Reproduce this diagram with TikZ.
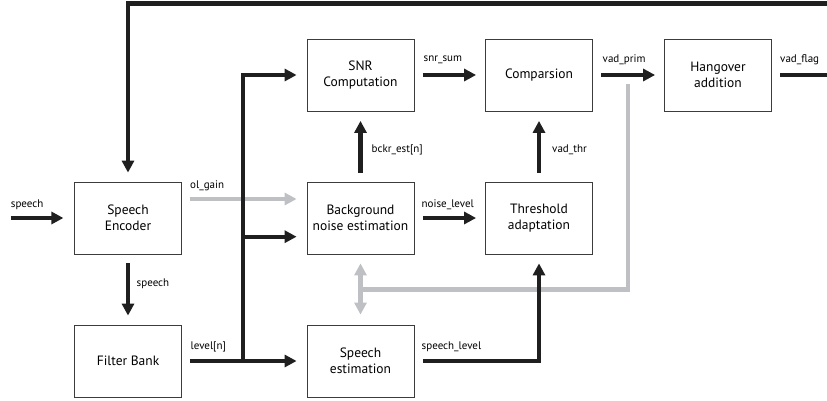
\documentclass[tikz,border=0pt]{standalone}
\usepackage{fontspec}
\setmainfont{PT Sans}
\usetikzlibrary{arrows.meta}
\definecolor{flowgrey}{RGB}{190,192,196}
\definecolor{boxline}{RGB}{60,60,60}
\tikzset{
  block/.style={draw=boxline, line width=0.8pt, minimum width=107pt, minimum height=72pt,
    align=center, inner sep=0pt, font=\fontsize{13.5}{16}\selectfont},
  sig/.style={line width=4.2pt, black!88, -{Triangle[length=12pt,width=12pt]}},
  bus/.style={line width=4.2pt, black!88},
  fb/.style={line width=4.2pt, flowgrey},
  fbarrow/.style={line width=4.2pt, flowgrey, -{Triangle[length=12pt,width=12pt]}},
  fbboth/.style={line width=4.2pt, flowgrey, {Triangle[length=12pt,width=12pt]}-{Triangle[length=12pt,width=12pt]}},
  lbl/.style={font=\fontsize{11}{13}\selectfont, inner sep=0pt, anchor=west}
}
\begin{document}
\begin{tikzpicture}[x=1pt,y=-1pt]
\useasboundingbox (0,0) rectangle (827,401);

% processing blocks
\node[block] (enc)  at (128,218) {Speech\\Encoder};
\node[block] (fbk)  at (128,361) {Filter Bank};
\node[block] (snr)  at (360.5,75) {SNR\\Computation};
\node[block] (bgn)  at (360.5,218) {Background\\noise estimation};
\node[block] (spe)  at (360.5,361) {Speech\\estimation};
\node[block] (cmp)  at (539,75) {Comparsion};
\node[block] (thr)  at (539,218) {Threshold\\adaptation};
\node[block] (hov)  at (718,75) {Hangover\\addition};

% free ends and bends
\coordinate (inL)   at (10.7,218);
\coordinate (topR)  at (827,3.5);
\coordinate (topL)  at (128,3.5);
\coordinate (outR)  at (827,75);
\coordinate (busB)  at (243.3,361);
\coordinate (busT)  at (243.3,75);
\coordinate (busM)  at (243.3,236.7);
\coordinate (slC)   at (539,361);
\coordinate (fbT)   at (628.3,84.3);
\coordinate (fbC)   at (628.3,289.5);
\coordinate (fbL)   at (360,289.5);

% grey feedback from vad_prim to the estimators
\draw[fbarrow] ([xshift=8pt,yshift=19pt]enc.east) -- ([xshift=-10pt,yshift=19pt]bgn.west);
\draw[fb] (fbT) -- (fbC) -- (fbL);
\draw[fbboth] ([yshift=-9pt]bgn.south) -- ([yshift=10pt]spe.north);

% main signal path
\draw[sig] (inL) -- ([xshift=-10.7pt]enc.west);
\draw[sig] ([yshift=-9pt]enc.south) -- ([yshift=9pt]fbk.north);
\draw[bus] ([xshift=8pt]fbk.east) -- (busB);
\draw[sig] (busB) -- ([xshift=-10pt]spe.west);
\draw[sig] (busB) -- (busT) -- ([xshift=-10pt]snr.west);
\draw[sig] (busM) -- ([xshift=-10pt]bgn.west |- busM);
\draw[sig] ([yshift=9pt]bgn.north) -- ([yshift=-9.5pt]snr.south);
\draw[sig] ([xshift=8.5pt]bgn.east) -- ([xshift=-9pt]thr.west);
\draw[sig] ([xshift=8.5pt]snr.east) -- ([xshift=-9pt]cmp.west);
\draw[sig] ([yshift=9pt]thr.north) -- ([yshift=-9.5pt]cmp.south);
\draw[sig] ([xshift=8.5pt]spe.east) -- (slC) -- ([yshift=-9pt]thr.south);
\draw[sig] ([xshift=8.5pt]cmp.east) -- ([xshift=-9pt]hov.west);
\draw[bus] ([xshift=8.5pt]hov.east) -- (outR);
\draw[sig] (topR) -- (topL) -- ([yshift=9pt]enc.north);

% signal names
\node[lbl] (l1) at (10.7,205) {speech};
\node[lbl] (l2) at (190,186) {ol\_gain};
\node[lbl] (l3) at (136.5,284) {speech};
\node[lbl] (l4) at (190.5,347) {level[n]};
\node[lbl] (l5) at (371.5,150) {bckr\_est[n]};
\node[lbl] (l6) at (423.5,60) {snr\_sum};
\node[lbl] (l7) at (602.5,60) {vad\_prim};
\node[lbl] (l8) at (780,60) {vad\_flag};
\node[lbl] (l9) at (552,150) {vad\_thr};
\node[lbl] (l10) at (421.5,204.5) {noise\_level};
\node[lbl] (l11) at (421.5,347) {speech\_level};
\end{tikzpicture}
\end{document}
